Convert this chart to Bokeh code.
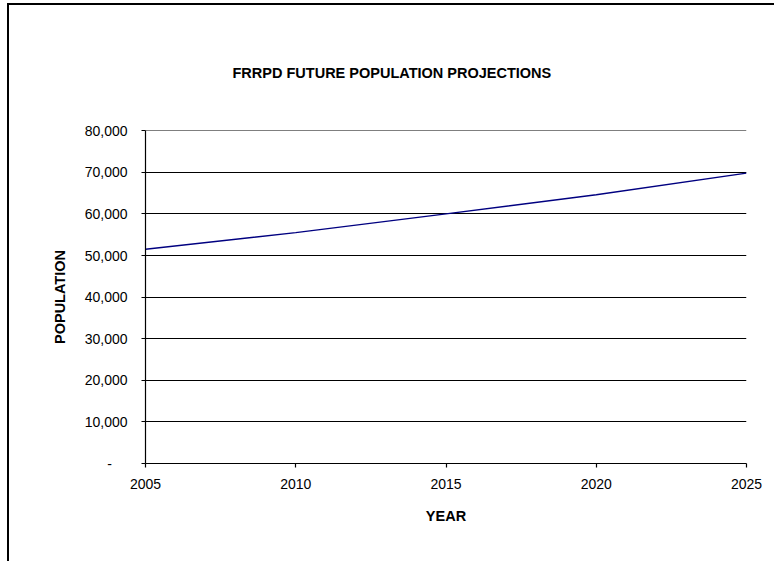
from bokeh.plotting import figure
from bokeh.models import FixedTicker, Range1d, Title
from bokeh.embed import file_html
from bokeh.resources import INLINE

# Projected population by year
years = [2005, 2010, 2015, 2020, 2025]
population = [51500, 55500, 60000, 64600, 69800]

# Axis ticks and their labels (accounting style: zero shown as a dash)
x_ticks = [2005, 2010, 2015, 2020, 2025]
x_labels = ["2005", "2010", "2015", "2020", "2025"]
y_ticks = [0, 10000, 20000, 30000, 40000, 50000, 60000, 70000, 80000]
y_labels = ["-\u00a0\u00a0\u00a0\u00a0", "10,000", "20,000", "30,000", "40,000",
            "50,000", "60,000", "70,000", "80,000"]

FONT = "Liberation Sans"

p = figure(
    width=767, height=558,
    output_backend="svg", toolbar_location=None,
    x_range=Range1d(2005, 2025), y_range=Range1d(0, 80050),
    min_border_left=136, min_border_right=30,
    min_border_top=125, min_border_bottom=100,
)
p.styles = {
    "margin-left": "7px", "margin-top": "3px",
    "border-left": "2px solid #000", "border-top": "2px solid #000",
}
p.outline_line_color = None
p.background_fill_color = "white"
p.border_fill_color = "white"

title = Title(text="FRRPD FUTURE POPULATION PROJECTIONS", align="left", offset=87,
              standoff=99, text_font=FONT, text_font_size="14.5px",
              text_font_style="bold", text_color="#000")
p.add_layout(title, "above")

p.line(years, population, line_color="#000080", line_width=1.4)

# Grid: horizontal lines only
p.xgrid.grid_line_color = None
p.ygrid.grid_line_color = "#000"
p.ygrid.grid_line_width = 1.2
p.ygrid.ticker = FixedTicker(ticks=y_ticks)

for ax in (p.xaxis[0], p.yaxis[0]):
    ax.axis_line_color = "#000"
    ax.axis_line_width = 1.2
    ax.major_tick_line_color = "#000"
    ax.major_tick_line_width = 1.2
    ax.major_tick_in = 0
    ax.major_tick_out = 4
    ax.minor_tick_line_color = None
    ax.major_label_text_font = FONT
    ax.major_label_text_font_size = "14px"
    ax.major_label_text_color = "#000"
    ax.axis_label_text_font = FONT
    ax.axis_label_text_font_size = "14.5px"
    ax.axis_label_text_font_style = "bold"
    ax.axis_label_text_color = "#000"

p.xaxis.ticker = FixedTicker(ticks=x_ticks)
p.xaxis.major_label_overrides = dict(zip(x_ticks, x_labels))
p.xaxis.axis_label = "YEAR"
p.xaxis.major_label_standoff = 11
p.xaxis.axis_label_standoff = 16

p.yaxis.ticker = FixedTicker(ticks=y_ticks)
p.yaxis.major_label_overrides = dict(zip(y_ticks, y_labels))
p.yaxis.axis_label = "POPULATION"
p.yaxis.major_label_standoff = 14
p.yaxis.axis_label_standoff = 14

open("out.html", "w").write(file_html(p, INLINE))
